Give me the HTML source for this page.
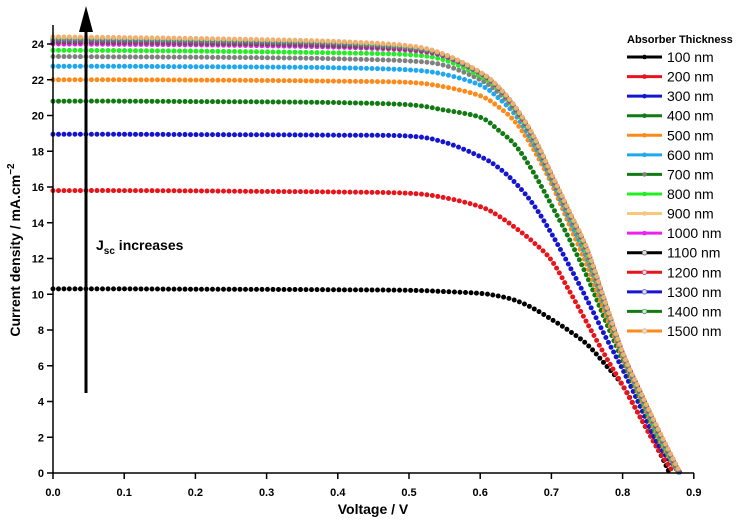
<!DOCTYPE html>
<html><head><meta charset="utf-8"><style>
body{margin:0;background:#fff}
svg text{font-family:"Liberation Sans",Arial,sans-serif}
</style></head><body>
<svg id="chart" width="756" height="522" viewBox="0 0 756 522" xmlns="http://www.w3.org/2000/svg">
<g id="series"></g>
<g id="axes"></g>
<g id="legend"></g>
</svg>
<script>
const voltages = [0,0.1,0.2,0.3,0.4,0.5,0.55,0.6,0.625,0.65,0.675,0.7,0.725,0.75,0.775,0.8,0.825,0.85];
const labels = ["100 nm","200 nm","300 nm","400 nm","500 nm","600 nm","700 nm","800 nm","900 nm","1000 nm","1100 nm","1200 nm","1300 nm","1400 nm","1500 nm"];
const vocs = [0.866,0.872,0.881,0.879,0.879,0.879,0.88,0.88,0.88,0.88,0.88,0.88,0.88,0.88,0.881];
const s100 = [10.3,10.3,10.28,10.27,10.25,10.22,10.15,10.05,9.9,9.65,9.2,8.6,7.95,7.2,6.1,4.9,3.1,1.3];
const s200 = [15.8,15.8,15.78,15.75,15.72,15.65,15.4,14.9,14.4,13.7,12.9,11.9,10.2,8.4,6.6,4.9,3.1,1.3];
const s300 = [18.95,18.95,18.93,18.92,18.9,18.85,18.5,17.7,17.1,16.2,15.0,13.4,11.6,9.7,7.7,5.8,3.7,1.6];
const s400 = [20.8,20.8,20.78,20.76,20.72,20.6,20.3,19.9,19.2,18.3,16.8,15.0,13.1,11.0,8.6,6.3,4.1,1.9];
const s500 = [22.0,22.0,21.98,21.96,21.92,21.85,21.6,21.1,20.5,19.6,18.1,16.2,13.9,11.6,9.0,6.5,4.2,2.0];
const s600 = [22.75,22.75,22.73,22.71,22.67,22.55,22.3,21.7,21.0,20.0,18.4,16.4,14.2,12.0,9.3,6.6,4.3,2.1];
const s700 = [23.3,23.28,23.26,23.23,23.17,23.05,22.8,22.0,21.3,20.2,18.6,16.5,14.4,12.2,9.4,6.65,4.4,2.2];
const s800 = [23.65,23.63,23.6,23.56,23.5,23.4,23.1,22.2,21.5,20.3,18.7,16.6,14.5,12.3,9.5,6.7,4.45,2.25];
const s900 = [24.35,24.31,24.27,24.2,24.1,23.85,23.4,22.4,21.6,20.4,18.8,16.7,14.6,12.5,9.6,6.7,4.5,2.4];
const s1000 = [24.0,23.98,23.95,23.9,23.82,23.65,23.3,22.35,21.55,20.35,18.75,16.65,14.55,12.45,9.55,6.7,4.5,2.35];
const s1100 = [24.1,24.08,24.04,23.99,23.9,23.7,23.33,22.37,21.57,20.37,18.77,16.67,14.57,12.47,9.57,6.7,4.5,2.35];
const s1200 = [24.2,24.17,24.13,24.08,24.0,23.75,23.36,22.38,21.58,20.38,18.78,16.68,14.58,12.48,9.58,6.7,4.5,2.38];
const s1300 = [24.25,24.22,24.18,24.12,24.04,23.8,23.38,22.39,21.59,20.39,18.79,16.69,14.59,12.49,9.59,6.7,4.5,2.38];
const s1400 = [24.3,24.27,24.22,24.16,24.07,23.82,23.39,22.4,21.6,20.4,18.8,16.7,14.6,12.5,9.6,6.7,4.5,2.4];
const s1500 = [24.4,24.36,24.31,24.24,24.14,23.9,23.42,22.42,21.62,20.45,18.85,16.75,14.65,12.55,9.65,6.75,4.55,2.45];
const seriesData = [s100,s200,s300,s400,s500,s600,s700,s800,s900,s1000,s1100,s1200,s1300,s1400,s1500];
const colors = ["#000","#e8141b","#1515d0","#127a12","#ff8a1a","#1fa8f0","#808080","#22ee22","#f5c87a","#ee22ee","#555","#d0306a","#5a5ad0","#4a9a6a","#f0b070"];
const lineColors = ["#000","#e8141b","#1515d0","#127a12","#ff8a1a","#1fa8f0","#127a12","#22ee22","#f5c87a","#ee22ee","#000","#e8141b","#1515d0","#127a12","#ff8a1a"];
const xTicks = [0,0.1,0.2,0.3,0.4,0.5,0.6,0.7,0.8,0.9];
const yTicks = [0,2,4,6,8,10,12,14,16,18,20,22,24];

const NS="http://www.w3.org/2000/svg";
const xs = v => 53 + 712*v;
const ys = j => 473 - 17.875*j;
function mk(tag, attrs, parent){const e=document.createElementNS(NS,tag);for(const k in attrs)e.setAttribute(k,attrs[k]);parent.appendChild(e);return e;}
const gS=document.getElementById('series'), gA=document.getElementById('axes'), gL=document.getElementById('legend');

function smoothPath(pts){
  let d=`M${pts[0][0].toFixed(1)},${pts[0][1].toFixed(1)}`;
  for(let i=0;i<pts.length-1;i++){
    const p0=pts[Math.max(0,i-1)],p1=pts[i],p2=pts[i+1],p3=pts[Math.min(pts.length-1,i+2)];
    const c1x=p1[0]+(p2[0]-p0[0])/6,c1y=p1[1]+(p2[1]-p0[1])/6;
    const c2x=p2[0]-(p3[0]-p1[0])/6,c2y=p2[1]-(p3[1]-p1[1])/6;
    d+=` C${c1x.toFixed(1)},${c1y.toFixed(1)} ${c2x.toFixed(1)},${c2y.toFixed(1)} ${p2[0].toFixed(1)},${p2[1].toFixed(1)}`;
  }
  return d;
}

seriesData.forEach((arr,i)=>{
  const pts = arr.map((j,k)=>[xs(voltages[k]),ys(j)]);
  pts.push([xs(vocs[i]),ys(0)]);
  const p = mk('path',{d:smoothPath(pts),fill:'none',stroke:colors[i],'stroke-width':5,'stroke-linecap':'round','stroke-linejoin':'round','stroke-dasharray':'0 5.5'},gS);
  
  
});

const ax = mk('path',{d:`M53,25 V473 H694`,stroke:'#000','stroke-width':1.5,fill:'none'},gA);


xTicks.forEach(v=>{
  mk('line',{x1:xs(v),x2:xs(v),y1:473,y2:479,stroke:'#000','stroke-width':1.5},gA);
  const t=mk('text',{x:xs(v),y:496,'text-anchor':'middle','font-size':11,'font-weight':'bold'},gA);
  t.textContent=v.toFixed(1);
  
  
});
yTicks.forEach(v=>{
  mk('line',{x1:47,x2:53,y1:ys(v),y2:ys(v),stroke:'#000','stroke-width':1.5},gA);
  const t=mk('text',{x:44,y:ys(v)+4,'text-anchor':'end','font-size':11,'font-weight':'bold'},gA);
  t.textContent=v;
  
  
});
const xt=mk('text',{x:373,y:514,'text-anchor':'middle','font-size':14,'font-weight':'bold'},gA);
xt.textContent='Voltage / V';


const yt=mk('text',{x:0,y:0,'text-anchor':'middle','font-size':14,'font-weight':'bold',transform:'translate(20,250) rotate(-90)'},gA);
yt.innerHTML='Current density / mA.cm<tspan dy="-6" font-size="10">−2</tspan>';



const ar=mk('g',{},gA);


mk('line',{x1:86,x2:86,y1:393,y2:28,stroke:'#000','stroke-width':3},ar);
mk('polygon',{points:'86,6 79,32 93,32',fill:'#000'},ar);
const at=mk('text',{x:96,y:250,'font-size':14,'font-weight':'bold'},gA);
at.innerHTML='J<tspan dy="4" font-size="10">sc</tspan><tspan dy="-4"> increases</tspan>';



const lt=mk('text',{x:627,y:43,'font-size':11,'font-weight':'bold'},gL);
lt.textContent='Absorber Thickness';


labels.forEach((l,i)=>{
  const y=57+19.57*i;
  const g=mk('g',{},gL);
  
  
  mk('line',{x1:627,x2:662,y1:y,y2:y,stroke:lineColors[i],'stroke-width':3},g);
  mk('circle',{cx:644.5,cy:y,r:2.3,fill:i>=10?'#ddd':colors[i],stroke:i>=10?colors[i]:'none','stroke-width':0.8},g);
  const t=mk('text',{x:667,y:y+5,'font-size':14},g);
  t.textContent=l;
});
</script>
</body></html>
